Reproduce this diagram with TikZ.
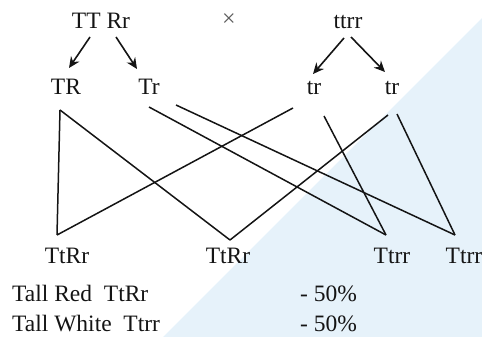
\documentclass[tikz,border=0pt]{standalone}
\usepackage{fontspec}
\setmainfont{Liberation Serif}
\usetikzlibrary{arrows.meta}
\definecolor{wm}{HTML}{E6F2FA}
\definecolor{ink}{HTML}{141414}
\begin{document}
\begin{tikzpicture}[x=1pt,y=-1pt,
  lbl/.style={anchor=base,inner sep=0pt,font=\fontsize{23.5}{25}\selectfont,text=ink},
  lline/.style={draw=ink,line width=1.5pt},
  arr/.style={draw=ink,line width=1.6pt,-{Stealth[length=11pt,width=10pt]}}]
\useasboundingbox (0,0) rectangle (482,337);
\fill[wm] (482,18) -- (163,337) -- (482,337) -- cycle;
% top
\node[lbl] (p1) at (101,29) {TT Rr};
\node[inner sep=0pt,text=ink!70,font=\fontsize{24}{24}\selectfont] (x) at (229,20) {×};
\node[lbl] (p2) at (348,29) {ttrr};
% gametes
\node[lbl] (g1) at (66,94) {TR};
\node[lbl] (g2) at (149,94) {Tr};
\node[lbl] (g3) at (314,94) {tr};
\node[lbl] (g4) at (392,94) {tr};
% arrows
\coordinate (a1) at (90,37); \coordinate (a1e) at (69,68);
\coordinate (a2) at (116,37); \coordinate (a2e) at (137,69);
\coordinate (a3) at (344,38); \coordinate (a3e) at (313,74);
\coordinate (a4) at (351,37); \coordinate (a4e) at (385,72);
\draw[arr] (a1) -- (a1e);
\draw[arr] (a2) -- (a2e);
\draw[arr] (a3) -- (a3e);
\draw[arr] (a4) -- (a4e);
% offspring
\node[lbl] (o1) at (67,263) {TtRr};
\node[lbl] (o2) at (228,263) {TtRr};
\node[lbl] (o3) at (392,263) {Ttrr};
\node[lbl] (o4) at (464,263) {Ttrr};
% line endpoints
\coordinate (s1) at (60,110);
\coordinate (s2) at (149,107);
\coordinate (s2b) at (176,105);
\coordinate (s3) at (293,108);
\coordinate (s3b) at (324,116);
\coordinate (s4) at (388,115);
\coordinate (s4b) at (397,114);
\coordinate (t1) at (57,235);
\coordinate (t2) at (230,240);
\coordinate (t3) at (386,235);
\coordinate (t4) at (455,235);
\draw[lline] (s1) -- (t1);
\draw[lline] (s1) -- (t2);
\draw[lline] (s2) -- (t3);
\draw[lline] (s2b) -- (t4);
\draw[lline] (s3) -- (t1);
\draw[lline] (s3b) -- (t3);
\draw[lline] (s4) -- (t2);
\draw[lline] (s4b) -- (t4);
% summary
\node[lbl,anchor=base west] (r1) at (12,301) {Tall Red\ \ TtRr};
\node[lbl,anchor=base west] (r1p) at (300,301) {- 50\%};
\node[lbl,anchor=base west] (r2) at (12,331) {Tall White\ \ Ttrr};
\node[lbl,anchor=base west] (r2p) at (300,331) {- 50\%};
\end{tikzpicture}
\end{document}
